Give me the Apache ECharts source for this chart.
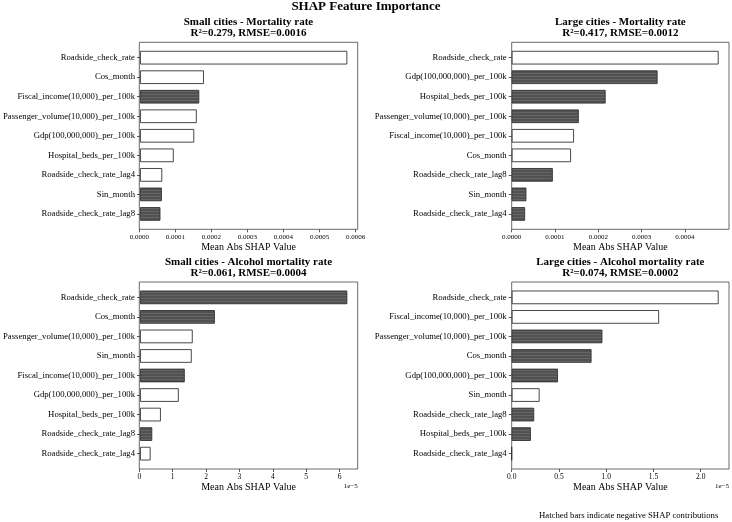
<!DOCTYPE html>
<html>
<head>
<meta charset="utf-8">
<title>SHAP Feature Importance</title>
<script src="https://cdn.jsdelivr.net/npm/echarts@6.0.0/dist/echarts.min.js"></script>
<style>
  html, body { margin: 0; padding: 0; background: #fff; }
  #chart { width: 732px; height: 522px; }
</style>
</head>
<body>
<div id="chart"></div>
<script>
// small cities - mortality rate
var smallMortNames = ['Roadside_check_rate', 'Cos_month', 'Fiscal_income(10,000)_per_100k', 'Passenger_volume(10,000)_per_100k',
  'Gdp(100,000,000)_per_100k', 'Hospital_beds_per_100k', 'Roadside_check_rate_lag4', 'Sin_month', 'Roadside_check_rate_lag8']
var smallMortValues = [0.000577, 0.000178, 0.000165, 0.000158, 0.000151, 0.000094, 0.000062, 0.000061, 0.000057]
var smallMortNeg = [0, 0, 1, 0, 0, 0, 0, 1, 1]
var smallMortTicks = [0, 0.0001, 0.0002, 0.0003, 0.0004, 0.0005, 0.0006]

// large cities - mortality rate
var largeMortNames = ['Roadside_check_rate', 'Gdp(100,000,000)_per_100k', 'Hospital_beds_per_100k', 'Passenger_volume(10,000)_per_100k',
  'Fiscal_income(10,000)_per_100k', 'Cos_month', 'Roadside_check_rate_lag8', 'Sin_month', 'Roadside_check_rate_lag4']
var largeMortValues = [0.000478, 0.000337, 0.000217, 0.000155, 0.000144, 0.000137, 0.000095, 0.000034, 0.000031]
var largeMortNeg = [0, 1, 1, 1, 0, 0, 1, 1, 1]
var largeMortTicks = [0, 0.0001, 0.0002, 0.0003, 0.0004]

// small cities - alcohol mortality rate (x 1e-5)
var smallAlcNames = ['Roadside_check_rate', 'Cos_month', 'Passenger_volume(10,000)_per_100k', 'Sin_month',
  'Fiscal_income(10,000)_per_100k', 'Gdp(100,000,000)_per_100k', 'Hospital_beds_per_100k', 'Roadside_check_rate_lag8', 'Roadside_check_rate_lag4']
var smallAlcValues = [6.23, 2.25, 1.585, 1.555, 1.346, 1.166, 0.628, 0.369, 0.319]
var smallAlcNeg = [1, 1, 0, 0, 1, 0, 0, 1, 0]
var smallAlcTicks = [0, 1, 2, 3, 4, 5, 6]

// large cities - alcohol mortality rate (x 1e-5)
var largeAlcNames = ['Roadside_check_rate', 'Fiscal_income(10,000)_per_100k', 'Passenger_volume(10,000)_per_100k', 'Cos_month',
  'Gdp(100,000,000)_per_100k', 'Sin_month', 'Roadside_check_rate_lag8', 'Hospital_beds_per_100k', 'Roadside_check_rate_lag4']
var largeAlcValues = [2.19, 1.56, 0.96, 0.845, 0.49, 0.295, 0.238, 0.203, 0.0]
var largeAlcNeg = [0, 0, 1, 1, 1, 0, 1, 1, 0]
var largeAlcTicks = [0, 0.5, 1.0, 1.5, 2.0]

var panelTitles = [
  'Small cities - Mortality rate\nR²=0.279, RMSE=0.0016',
  'Large cities - Mortality rate\nR²=0.417, RMSE=0.0012',
  'Small cities - Alcohol mortality rate\nR²=0.061, RMSE=0.0004',
  'Large cities - Alcohol mortality rate\nR²=0.074, RMSE=0.0002'
]

var FONT = 'Liberation Serif'

// hatch pattern for negative bars
function hatch () {
  var c = document.createElement('canvas')
  c.width = 6
  c.height = 3
  var ctx = c.getContext('2d')
  ctx.fillStyle = '#515151'
  ctx.fillRect(0, 0, 6, 3)
  ctx.fillStyle = '#666666'
  ctx.fillRect(0, 1, 6, 1)
  return c
}
var hatchImg = hatch()

var panels = [
  { names: smallMortNames, values: smallMortValues, neg: smallMortNeg, ticks: smallMortTicks, digits: 4, left: 139.3, top: 42.3, width: 218.4 },
  { names: largeMortNames, values: largeMortValues, neg: largeMortNeg, ticks: largeMortTicks, digits: 4, left: 511.7, top: 42.3, width: 217.3 },
  { names: smallAlcNames, values: smallAlcValues, neg: smallAlcNeg, ticks: smallAlcTicks, digits: 0, left: 139.3, top: 282, width: 218.4 },
  { names: largeAlcNames, values: largeAlcValues, neg: largeAlcNeg, ticks: largeAlcTicks, digits: 1, left: 511.7, top: 282, width: 217.3 }
]
var H = 187
var INSET = 5.6

var option = {
  animation: false,
  backgroundColor: '#fff',
  title: [{
    text: 'SHAP Feature Importance',
    left: 366,
    top: 0,
    padding: 0,
    textAlign: 'center',
    textStyle: { fontFamily: FONT, fontSize: 13, fontWeight: 'bold', color: '#000', lineHeight: 13 }
  }],
  grid: [],
  xAxis: [],
  yAxis: [],
  series: [],
  graphic: []
}

panels.forEach(function (p, i) {
  var max = Math.max.apply(null, p.values) * 1.05
  // frame grid
  option.grid.push({ left: p.left, top: p.top, width: p.width, height: H, show: true, borderColor: '#444', borderWidth: 0.8, backgroundColor: 'transparent' })
  // bar grid
  option.grid.push({ left: p.left, top: p.top + INSET, width: p.width, height: H - 2 * INSET })

  option.xAxis.push({
    type: 'value',
    gridIndex: 2 * i,
    min: 0,
    max: max,
    name: 'Mean Abs SHAP Value',
    nameLocation: 'middle',
    nameGap: 13,
    nameTextStyle: { fontFamily: FONT, fontSize: 10, color: '#000' },
    axisLine: { show: false },
    axisTick: { show: true, length: 3, customValues: p.ticks, lineStyle: { color: '#333', width: 0.8 } },
    axisLabel: {
      fontFamily: FONT,
      fontSize: i < 2 ? 7 : 7.5,
      color: '#000',
      margin: 4.5,
      customValues: p.ticks,
      formatter: function (v) { return v.toFixed(p.digits) }
    },
    splitLine: { show: false }
  })
  option.xAxis.push({ type: 'value', gridIndex: 2 * i + 1, min: 0, max: max, show: false })

  option.yAxis.push({ type: 'value', gridIndex: 2 * i, min: 0, max: 1, show: false })
  option.yAxis.push({
    type: 'category',
    gridIndex: 2 * i + 1,
    inverse: true,
    data: p.names,
    axisLine: { show: false },
    axisTick: { show: true, alignWithLabel: true, length: 3, lineStyle: { color: '#333', width: 0.8 } },
    axisLabel: { interval: 0, fontFamily: FONT, fontSize: 8.7, color: '#000', margin: 5 }
  })

  option.series.push({
    type: 'bar',
    xAxisIndex: 2 * i + 1,
    yAxisIndex: 2 * i + 1,
    barCategoryGap: '30%',
    data: p.values.map(function (v, j) {
      return {
        value: v,
        itemStyle: { color: p.neg[j] ? { image: hatchImg, repeat: 'repeat' } : '#fff' }
      }
    }),
    itemStyle: { borderColor: '#333', borderWidth: 0.9 }
  })

  option.title.push({
    text: panelTitles[i],
    left: p.left + p.width / 2,
    top: p.top - 25.5,
    padding: 0,
    textAlign: 'center',
    textStyle: { fontFamily: FONT, fontSize: 11, fontWeight: 'bold', color: '#000', lineHeight: 11 }
  })

  // scale offset text for the 1e-5 panels
  if (i >= 2) {
    option.graphic.push({
      type: 'text',
      right: 732 - (p.left + p.width),
      top: p.top + H + 14,
      style: { text: '1e\u22125', fontFamily: FONT, fontSize: 7, fill: '#000' }
    })
  }
})

option.graphic.push({
  type: 'text',
  left: 539,
  top: 511,
  style: { text: 'Hatched bars indicate negative SHAP contributions', fontFamily: FONT, fontSize: 8.7, fill: '#000' }
})

var myChart = echarts.init(document.getElementById('chart'))
myChart.setOption(option)
</script>
</body>
</html>
